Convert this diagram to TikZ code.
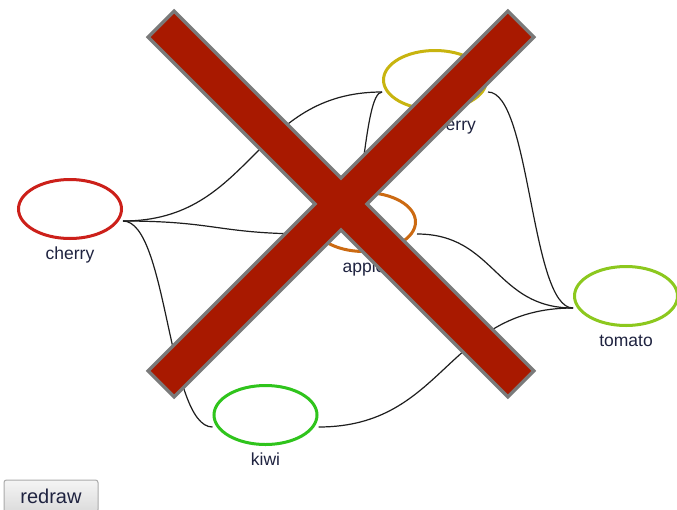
\documentclass[tikz,border=0pt]{standalone}
\usepackage{fontspec}
\setmainfont{Liberation Sans}
\usetikzlibrary{calc,positioning,shapes.geometric,shadings}

\definecolor{cherrycol}{RGB}{204,32,26}
\definecolor{berrycol}{RGB}{200,180,15}
\definecolor{applecol}{RGB}{204,106,18}
\definecolor{tomatocol}{RGB}{140,200,30}
\definecolor{kiwicol}{RGB}{47,196,28}
\definecolor{labelcol}{RGB}{31,35,64}
\definecolor{linkcol}{RGB}{30,30,30}
\definecolor{crossred}{RGB}{168,25,0}
\definecolor{crossgray}{RGB}{122,122,122}
\definecolor{btnborder}{RGB}{170,170,170}

\begin{document}
\begin{tikzpicture}[x=1pt, y=-1pt,
  fruit/.style={ellipse, draw, line width=3pt, minimum width=103pt, minimum height=59pt, inner sep=0pt},
  fruitname/.style={inner sep=0pt, text height=12pt, text depth=3.5pt, text=labelcol, font=\fontsize{17.5}{20}\selectfont},
  link/.style={draw=linkcol, line width=1.2pt,
    to path={.. controls ($(\tikztostart)!0.5!(\tikztostart-|\tikztotarget)$) and ($(\tikztotarget)!0.5!(\tikztotarget-|\tikztostart)$) .. (\tikztotarget)}}]
  \useasboundingbox[fill=white] (0,0) rectangle (677,509);

  \node[fruit, draw=cherrycol] (cherry) at (70,209) {};
  \node[fruit, draw=berrycol] (strawberry) at (435,80) {};
  \node[fruit, draw=applecol] (apple) at (364,222) {};
  \node[fruit, draw=tomatocol] (tomato) at (626,296) {};
  \node[fruit, draw=kiwicol] (kiwi) at (265.5,415) {};

  \node[fruitname, below = 7pt of cherry] (cherrytxt) {cherry};
  \node[fruitname, below = 7pt of strawberry] (strawberrytxt) {strawberry};
  \node[fruitname, below = 7pt of apple] (appletxt) {apple};
  \node[fruitname, below = 7pt of tomato] (tomatotxt) {tomato};
  \node[fruitname, below = 7pt of kiwi] (kiwitxt) {kiwi};

  % link ends sit a bit below the middle of each ellipse
  \coordinate (cherryR) at ([yshift=-12pt]cherry.east);
  \coordinate (strawberryL) at ([yshift=-12pt]strawberry.west);
  \coordinate (strawberryR) at ([yshift=-12pt]strawberry.east);
  \coordinate (appleL) at ([yshift=-12pt]apple.west);
  \coordinate (appleIn) at ([xshift=-20pt,yshift=-12pt]apple.center);
  \coordinate (appleR) at ([yshift=-12pt]apple.east);
  \coordinate (tomatoL) at ([yshift=-12pt]tomato.west);
  \coordinate (kiwiL) at ([yshift=-12pt]kiwi.west);
  \coordinate (kiwiR) at ([yshift=-12pt]kiwi.east);

  \draw[link] (cherryR) to (strawberryL);
  \draw[link] (cherryR) to (appleL);
  \draw[link] (cherryR) to (kiwiL);
  \draw[link] (appleIn) to (strawberryL);
  \draw[link] (strawberryR) to (tomatoL);
  \draw[link] (appleR) to (tomatoL);
  \draw[link] (kiwiR) to (tomatoL);

  \node[draw=btnborder, line width=1pt, rounded corners=2.5pt, top color=white!96!black, bottom color=white!86!black,
    minimum width=94pt, minimum height=32pt, text=labelcol, font=\fontsize{20}{24}\selectfont] (redraw) at (51,496) {redraw};

  % the big cross: gray rims first, red on top so the middle stays clean
  \coordinate (xc) at (341,204);
  \foreach \a in {45,-45}
    \draw[crossgray, line width=7pt, rotate around={\a:(xc)}] ($(xc)+(-252.5,-16.5)$) rectangle ($(xc)+(252.5,16.5)$);
  \foreach \a in {45,-45}
    \fill[crossred, rotate around={\a:(xc)}] ($(xc)+(-252.5,-16.5)$) rectangle ($(xc)+(252.5,16.5)$);
\end{tikzpicture}
\end{document}
